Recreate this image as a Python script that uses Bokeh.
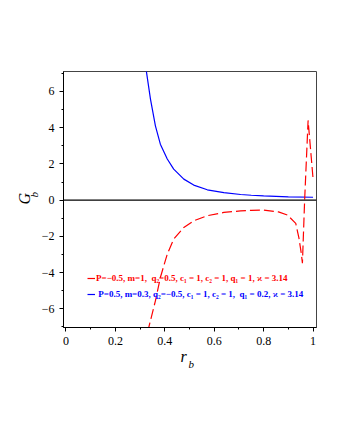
from bokeh.plotting import figure
from bokeh.models import (Range1d, FixedTicker, Span, Title, Legend, LegendItem)
from bokeh.embed import file_html
from bokeh.resources import INLINE

# ---- data ----
r_blue = [0.322, 0.3256, 0.342, 0.362, 0.382, 0.41, 0.436, 0.477, 0.517, 0.572, 0.639,
          0.707, 0.75, 0.80, 0.90, 1.0]
g_blue = [7.4, 7.09, 5.58, 4.1, 3.09, 2.27, 1.71, 1.16, 0.83, 0.57, 0.41,
          0.31, 0.27, 0.23, 0.18, 0.16]

r_red = [0.33, 0.335, 0.362, 0.382, 0.41, 0.436, 0.477, 0.517, 0.572, 0.639, 0.707,
         0.75, 0.801, 0.86, 0.896, 0.93, 0.943, 0.952, 0.957, 0.966, 0.98, 0.99, 1.0]
g_red = [-7.3, -7.03, -5.56, -4.27, -2.98, -2.15, -1.51, -1.14, -0.86, -0.68, -0.59,
         -0.56, -0.55, -0.65, -0.82, -1.28, -2.1, -2.9, -3.48, 0.0, 4.4, 2.8, 1.19]

x_ticks = [0, 0.2, 0.4, 0.6, 0.8, 1]
x_tick_labels = ["0", "0.2", "0.4", "0.6", "0.8", "1"]
x_minor = [0.1, 0.3, 0.5, 0.7, 0.9]
y_ticks = [-6, -4, -2, 0, 2, 4, 6]
y_tick_labels = ["\u22126", "\u22124", "\u22122", "0", "2", "4", "6"]
y_minor = [-7, -5, -3, -1, 1, 3, 5, 7]

red_label = "P=\u22120.5, m=1,  q\u2082=0.5, c\u2081 = 1, c\u2082 = 1, q\u2081 = 1, \u03f0 = 3.14"
blue_label = " P=0.5, m=0.3, q\u2082=\u22120.5, c\u2081 = 1, c\u2082 = 1,  q\u2081 = 0.2, \u03f0 = 3.14"

SERIF = "Liberation Serif"

p = figure(width=332, height=432, output_backend="svg", toolbar_location=None,
           x_range=Range1d(-0.01, 1.014), y_range=Range1d(-7.03, 7.1),
           min_border_left=63, min_border_right=16, min_border_top=71, min_border_bottom=105)
p.background_fill_color = "white"
p.border_fill_color = "white"
p.outline_line_color = "#444444"
p.outline_line_width = 1
p.xgrid.visible = False
p.ygrid.visible = False

for ax, ticks, minor, labels in [(p.xaxis[0], x_ticks, x_minor, x_tick_labels),
                                 (p.yaxis[0], y_ticks, y_minor, y_tick_labels)]:
    ax.ticker = FixedTicker(ticks=ticks, minor_ticks=minor)
    ax.major_label_overrides = {t: l for t, l in zip(ticks, labels)}
    ax.major_tick_in = 0
    ax.major_tick_out = 4
    ax.minor_tick_in = 0
    ax.minor_tick_out = 2
    ax.axis_line_color = "black"
    ax.major_tick_line_color = "black"
    ax.minor_tick_line_color = "black"
    ax.major_label_text_font = SERIF
    ax.major_label_text_font_size = "12px"
    ax.major_label_text_color = "black"
    ax.major_label_standoff = 5

p.add_layout(Span(location=0, dimension="width", line_color="black", line_width=1.3))

blue = p.line(r_blue, g_blue, line_color="#0000ff", line_width=1.2)
red = p.line(r_red, g_red, line_color="#ff0000", line_width=1.2, line_dash="10 4")

# axis titles: subscript first (closer to the axis), then main letter
p.add_layout(Title(text="b", text_font=SERIF, text_font_style="italic", text_font_size="11px",
                   align="left", offset=130, standoff=-2, text_color="black"), "left")
p.add_layout(Title(text="G", text_font=SERIF, text_font_style="italic", text_font_size="16px",
                   align="left", offset=123, standoff=-13, text_color="black"), "left")
p.add_layout(Title(text="r", text_font=SERIF, text_font_style="italic", text_font_size="16px",
                   align="left", offset=117, standoff=-4, text_color="black"), "below")
p.add_layout(Title(text="b", text_font=SERIF, text_font_style="italic", text_font_size="11px",
                   align="left", offset=125, standoff=-13, text_color="black"), "below")

for rend, lab, col, loc in [(red, red_label, "#ff0000", (24, 44)),
                            (blue, blue_label, "#0000ff", (24, 28))]:
    lg = Legend(items=[LegendItem(label=lab, renderers=[rend])], location=loc,
                background_fill_alpha=0, border_line_alpha=0, padding=0, margin=0,
                spacing=0, glyph_width=8, glyph_height=10, label_height=10,
                label_standoff=1, label_text_font=SERIF, label_text_font_style="bold",
                label_text_font_size="9px", label_text_color=col)
    p.add_layout(lg)

open("out.html", "w").write(file_html(p, INLINE))
